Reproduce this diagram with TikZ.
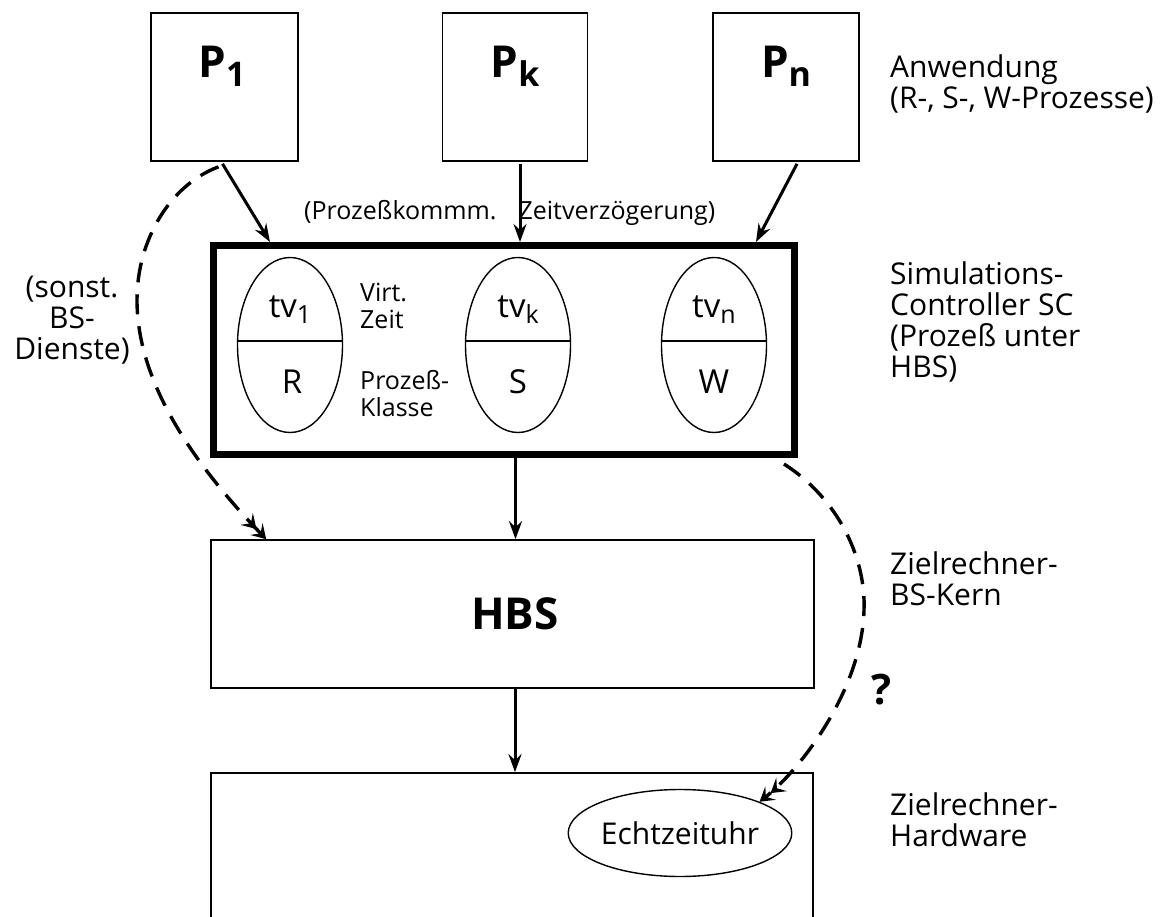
\documentclass[tikz,border=0pt]{standalone}
\usepackage{fontspec}
\setmainfont{Open Sans}
\usetikzlibrary{arrows.meta,shapes.geometric,calc}
\begin{document}
\begin{tikzpicture}[x=1pt,y=-1pt,
  box/.style={draw,rectangle,line width=1.7pt,inner sep=0pt},
  thickbox/.style={draw,rectangle,line width=7pt,inner sep=0pt},
  oval/.style={draw,ellipse,line width=1.4pt,inner sep=0pt},
  arr/.style={line width=3pt,-{Stealth[length=18pt,width=13pt,inset=6pt]}},
  darr/.style={line width=3.4pt,dash pattern=on 20pt off 12pt,-{Stealth[length=14pt,width=17pt,inset=6pt]Stealth[length=14pt,width=17pt,inset=6pt]}},
  fbig/.style={font=\fontsize{44}{44}\selectfont\bfseries,inner sep=0pt},
  fov/.style={font=\fontsize{33}{33}\selectfont,inner sep=0pt},
  fmed/.style={font=\fontsize{30}{31}\selectfont,inner sep=0pt},
  fsmall/.style={font=\fontsize{25}{27}\selectfont,inner sep=0pt},
  divider/.style={line width=1.4pt}
]
\useasboundingbox (0,0) rectangle (1168,917);
\fill[white] (0,0) rectangle (1168,917);
\begin{scope}
\clip (0,0) rectangle (1168,917);

% process boxes
\node[box,minimum width=147pt,minimum height=148pt] (P1) at (224.5,87) {};
\node[box,minimum width=145pt,minimum height=148pt] (Pk) at (515,87) {};
\node[box,minimum width=146pt,minimum height=148pt] (Pn) at (786,87) {};
\node[fbig,anchor=base] (P1t) at (222,78) {P\raisebox{-9pt}{\fontsize{34}{34}\selectfont 1}};
\node[fbig,anchor=base] (Pkt) at (515,78) {P\raisebox{-9pt}{\fontsize{34}{34}\selectfont k}};
\node[fbig,anchor=base] (Pnt) at (786,78) {P\raisebox{-9pt}{\fontsize{34}{34}\selectfont n}};

% simulation controller
\node[thickbox,minimum width=581pt,minimum height=209pt] (SC) at (504,350) {};
\node[oval,minimum width=105pt,minimum height=175pt] (e1) at (290,345) {};
\node[oval,minimum width=105pt,minimum height=175pt] (e2) at (518,345) {};
\node[oval,minimum width=105pt,minimum height=175pt] (e3) at (714,345) {};
\draw[divider] ($(e1.west)+(0,-4)$) -- ($(e1.east)+(0,-4)$);
\draw[divider] ($(e2.west)+(0,-4)$) -- ($(e2.east)+(0,-4)$);
\draw[divider] ($(e3.west)+(0,-4)$) -- ($(e3.east)+(0,-4)$);
\node[fov,anchor=base] (tv1) at (290,318) {tv\raisebox{-6pt}{\fontsize{25}{25}\selectfont 1}};
\node[fov,anchor=base] (tvk) at (518,318) {tv\raisebox{-6pt}{\fontsize{25}{25}\selectfont k}};
\node[fov,anchor=base] (tvn) at (714,318) {tv\raisebox{-6pt}{\fontsize{25}{25}\selectfont n}};
\node[fov,anchor=base] (cR) at (292,394) {R};
\node[fov,anchor=base] (cS) at (518,394) {S};
\node[fov,anchor=base] (cW) at (714,394) {W};
\node[fsmall,anchor=north west,align=left] (virt) at (360,283) {Virt.\\Zeit};
\node[fsmall,anchor=north west,align=left] (klasse) at (360,370) {Prozeß-\\Klasse};
\node[fsmall,anchor=west] (komm) at (304,213) {(Prozeßkommm.\hspace{22pt}Zeitverzögerung)};

% HBS and hardware
\node[box,minimum width=603pt,minimum height=148pt] (HBS) at (512.5,614) {};
\node[fbig] (HBSt) at (515,614) {HBS};
\node[box,minimum width=602pt,minimum height=200pt] (HW) at (512,873) {};
\node[oval,minimum width=191pt,minimum height=87pt,fmed] (clk) at (680,833) {Echtzeituhr};

% solid arrows
\draw[arr] ($(P1.south)+(-2,2)$) -- ($(SC.north west)+(60,0)$);
\coordinate (kb) at ($(Pk.south)+(5,2)$);
\draw[arr] (kb) -- (kb |- SC.north);
\draw[arr] ($(Pn.south)+(11,2)$) -- ($(SC.north east)+(-42,0)$);
\coordinate (sb) at ($(HBS.north)+(3,0)$);
\draw[arr] (sb |- SC.south) -- (sb);
\coordinate (hb) at ($(HW.north)+(3,0)$);
\draw[arr] (hb |- HBS.south) -- (hb);

% dashed arrows
\draw[darr] ($(P1.south)+(-6,5)$) .. controls (170,185) and (137,240) .. (137,300)
  .. controls (137,380) and (190,460) .. ($(HBS.north west)+(56,0)$);
\draw[darr] ($(SC.south east)+(-14,6)$) .. controls (840,500) and (866,560) .. (864,610)
  .. controls (862,690) and (800,770) .. (clk.north east);
\node[font=\fontsize{42}{42}\selectfont\bfseries,inner sep=0pt] (q) at (882,690) {?};

% side labels
\node[fmed,align=center] (other) at (72,320) {(sonst.\\BS-\\Dienste)};
\node[fmed,anchor=north west,align=left] (lapp) at (890,55) {Anwendung\\(R-, S-, W-Prozesse)};
\node[fmed,anchor=north west,align=left] (lsc) at (890,262) {Simulations-\\Controller SC\\(Prozeß unter\\HBS)};
\node[fmed,anchor=north west,align=left] (lbs) at (890,552) {Zielrechner-\\BS-Kern};
\node[fmed,anchor=north west,align=left] (lhw) at (890,793) {Zielrechner-\\Hardware};
\end{scope}
\end{tikzpicture}
\end{document}
